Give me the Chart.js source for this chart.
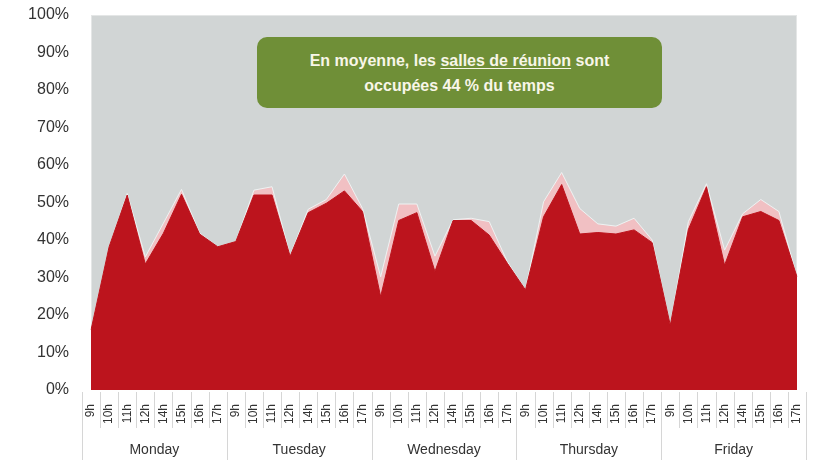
<!DOCTYPE html>
<html>
<head>
<meta charset="utf-8">
<script src="https://cdn.jsdelivr.net/npm/chart.js@4.4.1/dist/chart.umd.min.js"></script>
<style>
  html, body { margin: 0; padding: 0; background: #fff; }
  #wrap { position: relative; width: 813px; height: 460px; }
  #note {
    position: absolute; left: 257px; top: 37px; width: 405px; height: 71px;
    background: #6f8f37; border-radius: 10px; color: #f8f6e8;
    font: bold 16px "Liberation Sans", Arial, sans-serif; text-align: center;
    line-height: 25px; padding-top: 11px; box-sizing: border-box;
  }
  #note u { text-decoration-thickness: 1px; text-underline-offset: 2px; }
</style>
</head>
<body>
<div id="wrap">
  <canvas id="myChart" width="813" height="460"></canvas>
  <div id="note">En moyenne, les <u>salles de réunion</u> sont<br>occupées 44 % du temps</div>
</div>
<script>
var days = ['Monday', 'Tuesday', 'Wednesday', 'Thursday', 'Friday'];
var hours = ['9h', '10h', '11h', '12h', '14h', '15h', '16h', '17h'];

// occupied share (%), dark red
var occupied = [
    16, 38.2, 52, 33.6, 41.8, 52.2, 41.6, 38.2,
    39.6, 52, 52, 35.7, 47.3, 49.8, 53.1, 47.6,
    24.9, 45.2, 47.3, 31.6, 45.2, 45.2, 41.3, 33.8,
    26.7, 46.2, 54.8, 41.6, 42, 41.6, 42.7, 39.3,
    17.3, 42.8, 54.2, 33.3, 46.2, 47.6, 45.2, 30.2
];
// upper band (%), light pink
var upper = [
    16, 38.2, 52.4, 35.5, 44.5, 53.5, 41.8, 38.2,
    39.6, 53.3, 54.2, 35.9, 48.2, 50.8, 57.6, 48.4,
    30.2, 49.6, 49.6, 35.7, 45.4, 45.8, 44.9, 34.2,
    26.7, 50.2, 58, 48.4, 44.3, 43.7, 45.8, 40,
    17.3, 44.9, 55, 37.3, 47, 50.8, 47.6, 30.2
];

var labels = [];
days.forEach(function () { hours.forEach(function (h) { labels.push(h); }); });

var plotBg = {
    id: 'plotBg',
    beforeDraw: function (chart) {
        var a = chart.chartArea, c = chart.ctx;
        c.save();
        c.fillStyle = '#d1d5d5';
        c.fillRect(a.left, a.top, a.right - a.left, a.bottom - a.top);
        c.strokeStyle = '#e4e6e6';
        c.strokeRect(a.left + 0.5, a.top + 0.5, a.right - a.left - 1, a.bottom - a.top - 1);
        c.restore();
    }
};

var dayAxis = {
    id: 'dayAxis',
    afterDraw: function (chart) {
        var x = chart.scales.x, c = chart.ctx, a = chart.chartArea;
        var step = x.getPixelForValue(1) - x.getPixelForValue(0);
        var top = a.bottom + 2;
        c.save();
        c.strokeStyle = '#d6d6d6';
        c.lineWidth = 1;
        for (var i = 0; i <= labels.length; i++) {
            var px = Math.round(x.getPixelForValue(0) + (i - 0.5) * step) + 0.5;
            var isDay = i % hours.length === 0;
            c.beginPath();
            c.moveTo(px, top);
            c.lineTo(px, isDay ? 460 : 428);
            c.stroke();
        }
        c.fillStyle = '#333';
        c.font = '14px "Liberation Sans", Arial, sans-serif';
        c.textAlign = 'center';
        c.textBaseline = 'middle';
        days.forEach(function (d, k) {
            var mid = (x.getPixelForValue(k * 8) + x.getPixelForValue(k * 8 + 7)) / 2;
            c.fillText(d, mid, 450);
        });
        c.restore();
    }
};

var ctx = document.getElementById('myChart').getContext('2d');
var myChart = new Chart(ctx, {
    type: 'line',
    data: {
        labels: labels,
        datasets: [{
            label: 'occupied',
            data: occupied,
            order: 0,
            borderColor: '#bc141d',
            borderWidth: 1,
            backgroundColor: '#bc141d',
            fill: 'origin',
            pointRadius: 0,
            tension: 0
        }, {
            label: 'upper',
            data: upper,
            order: 1,
            borderColor: '#eef3f3',
            borderWidth: 1,
            backgroundColor: '#f1c0c3',
            fill: 'origin',
            pointRadius: 0,
            tension: 0
        }]
    },
    options: {
        responsive: false,
        animation: false,
        layout: { padding: { top: 15, right: 16, left: 0, bottom: 0 } },
        plugins: { legend: { display: false }, tooltip: { enabled: false } },
        scales: {
            x: {
                offset: false,
                grid: { display: false },
                border: { display: false },
                ticks: {
                    autoSkip: false, minRotation: 90, maxRotation: 90, padding: 6,
                    color: '#333', font: { family: '"Liberation Sans", Arial, sans-serif', size: 12 }
                },
                afterFit: function (s) { s.height = 70; s.paddingLeft = 0; s.paddingRight = 0; }
            },
            y: {
                min: 0, max: 100,
                grid: { display: false },
                border: { display: false },
                ticks: {
                    stepSize: 10, padding: 14, color: '#333',
                    font: { family: '"Liberation Sans", Arial, sans-serif', size: 16 },
                    callback: function (v) { return v + '%'; }
                },
                afterFit: function (s) { s.width = 91; s.paddingTop = 0; s.paddingBottom = 0; }
            }
        }
    },
    plugins: [plotBg, dayAxis]
});
</script>
</body>
</html>
